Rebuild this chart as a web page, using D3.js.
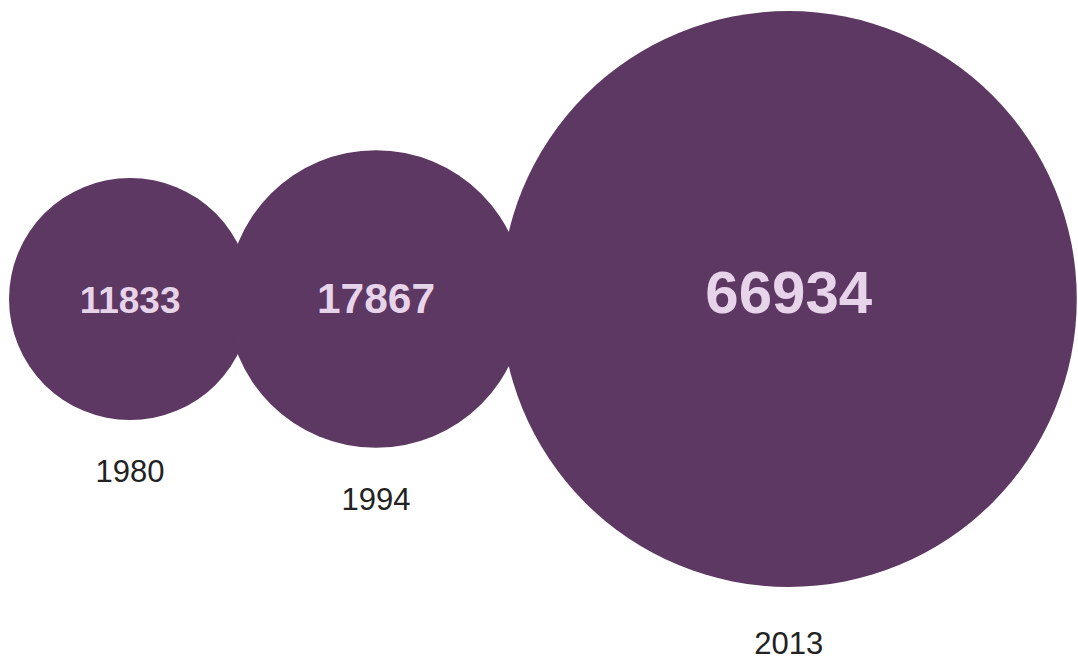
<!DOCTYPE html>
<html>
<head>
<meta charset="utf-8">
<script src="https://cdn.jsdelivr.net/npm/d3@7"></script>
<style>
  body { margin: 0; background: #fff; }
  text { font-family: "Liberation Sans", Arial, Helvetica, sans-serif; }
</style>
</head>
<body>
<script>
// ////////// Daten ////////////
var years  = ["1980", "1994", "2013"];
var values = [11833, 17867, 66934];

// ////////// svg ////////////
var width = 1078, height = 662;
var cy = 299;
var leftEdge = 9;
var overlap = 24; // wie weit sich benachbarte Kreise ueberlappen

var svg = d3.select("body")
  .append("svg")
  .attr("width", width)
  .attr("height", height);

// ////////// Skalen ////////////
var rScale = d3.scaleSqrt()
  .domain([0, d3.max(values)])
  .range([0, 288]);

var fontScale = d3.scaleLog()
  .domain([d3.min(values), d3.max(values)])
  .range([37, 60]);

// Mittelpunkte aneinanderreihen
var data = years.map(function(y, i) {
  return {year: y, value: values[i], r: rScale(values[i])};
});
var x = leftEdge;
data.forEach(function(d, i) {
  if (i == 0) d.cx = leftEdge + d.r;
  else d.cx = data[i-1].cx + data[i-1].r + d.r - overlap;
});

// ////////// Kreise ////////////
svg.selectAll("circle.bubble")
  .data(data)
  .enter()
  .append("circle")
  .attr("class", "bubble")
  .attr("cx", function(d) { return d.cx; })
  .attr("cy", cy)
  .attr("r", function(d) { return d.r; })
  .attr("fill", "#5d3862");

// Werte in den Kreisen
svg.selectAll("text.value")
  .data(data)
  .enter()
  .append("text")
  .attr("class", "value")
  .attr("x", function(d) { return d.cx; })
  .attr("y", cy + 14)
  .attr("text-anchor", "middle")
  .attr("fill", "#e7d4ea")
  .style("font-weight", "bold")
  .style("font-size", function(d) { return fontScale(d.value) + "px"; })
  .text(function(d) { return d.value; });

// Jahreszahlen unter den Kreisen
svg.selectAll("text.year")
  .data(data)
  .enter()
  .append("text")
  .attr("class", "year")
  .attr("x", function(d) { return d.cx; })
  .attr("y", function(d) { return cy + d.r * 1.03 + 58; })
  .attr("text-anchor", "middle")
  .attr("fill", "#222")
  .style("font-size", "31px")
  .text(function(d) { return d.year; });
</script>
</body>
</html>
